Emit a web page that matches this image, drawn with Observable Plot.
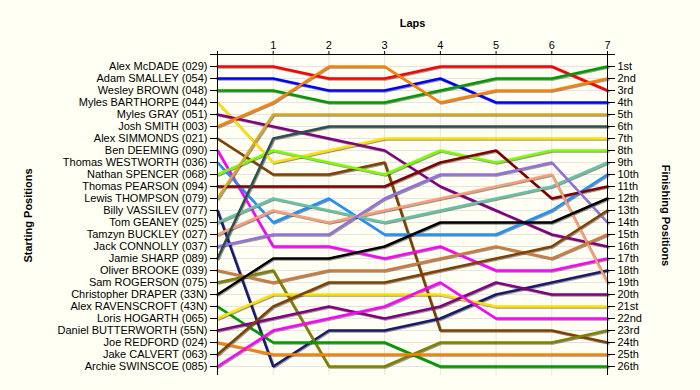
<!DOCTYPE html>
<html><head><meta charset="utf-8">
<script src="https://cdn.jsdelivr.net/npm/d3@7"></script>
<script src="https://cdn.jsdelivr.net/npm/@observablehq/plot@0.6"></script>
<style>html,body{margin:0;padding:0;background:#FFFFF4;}</style>
</head><body><div id="chart"></div>
<script>
const riders = [
  "Alex McDADE (029)", "Adam SMALLEY (054)", "Wesley BROWN (048)", "Myles BARTHORPE (044)",
  "Myles GRAY (051)", "Josh SMITH (003)", "Alex SIMMONDS (021)", "Ben DEEMING (090)",
  "Thomas WESTWORTH (036)", "Nathan SPENCER (068)", "Thomas PEARSON (094)", "Lewis THOMPSON (079)",
  "Billy VASSILEV (077)", "Tom GEANEY (025)", "Tamzyn BUCKLEY (027)", "Jack CONNOLLY (037)",
  "Jamie SHARP (089)", "Oliver BROOKE (039)", "Sam ROGERSON (075)", "Christopher DRAPER (33N)",
  "Alex RAVENSCROFT (43N)", "Loris HOGARTH (065)", "Daniel BUTTERWORTH (55N)", "Joe REDFORD (024)",
  "Jake CALVERT (063)", "Archie SWINSCOE (085)"
];
const riderColors = [
  "#FF0000", "#0000FF", "#009A00", "#FFE000", "#800080", "#FF8000", "#804000", "#FF00FF",
  "#1E90FF", "#7CFC00", "#800000", "#DAA520", "#191970", "#66C2A5", "#FA9E7A", "#9370DB",
  "#2F4F4F", "#CD7A3C", "#808000", "#000000", "#009A00", "#FFE000", "#800080", "#FF8000",
  "#804000", "#FF00FF"
];
const laps = [0, 1, 2, 3, 4, 5, 6, 7];
// position of each rider at laps 0..7 (lap 0 = starting position)
const lapPositions = [
  [1, 1, 2, 2, 1, 1, 1, 3],
  [2, 2, 3, 3, 2, 4, 4, 4],
  [3, 3, 4, 4, 3, 2, 2, 1],
  [4, 9, 8, 7, 7, 7, 7, 7],
  [5, 6, 7, 8, 11, 13, 15, 16],
  [6, 4, 1, 1, 4, 3, 3, 2],
  [7, 10, 10, 9, 23, 23, 23, 24],
  [8, 16, 16, 17, 16, 18, 18, 17],
  [9, 14, 12, 15, 15, 15, 13, 10],
  [10, 8, 9, 10, 8, 9, 8, 8],
  [11, 11, 11, 11, 9, 8, 12, 11],
  [12, 5, 5, 5, 5, 5, 5, 5],
  [13, 26, 23, 23, 22, 20, 19, 18],
  [14, 12, 13, 14, 13, 12, 11, 9],
  [15, 13, 14, 13, 12, 11, 10, 19],
  [16, 15, 15, 12, 10, 10, 9, 14],
  [17, 7, 6, 6, 6, 6, 6, 6],
  [18, 19, 18, 18, 17, 16, 17, 15],
  [19, 18, 26, 26, 24, 24, 24, 23],
  [20, 17, 17, 16, 14, 14, 14, 12],
  [21, 24, 24, 24, 26, 26, 26, 26],
  [22, 20, 20, 20, 20, 21, 21, 21],
  [23, 22, 21, 22, 21, 19, 20, 20],
  [24, 25, 25, 25, 25, 25, 25, 25],
  [25, 21, 19, 19, 18, 17, 16, 13],
  [26, 23, 22, 21, 19, 22, 22, 22]
];
const finishLabels = [
  "1st", "2nd", "3rd", "4th", "5th", "6th", "7th", "8th", "9th", "10th", "11th", "12th", "13th",
  "14th", "15th", "16th", "17th", "18th", "19th", "20th", "21st", "22nd", "23rd", "24th", "25th", "26th"
];
const xTitle = "Laps";
const leftTitle = "Starting Positions";
const rightTitle = "Finishing Positions";

const rows = riders.flatMap((name, i) => laps.map((lap, j) => ({rider: name, lap, pos: lapPositions[i][j]})));
const posTicks = d3.range(0, riders.length + 1);
const gridPositions = d3.range(1, riders.length + 1);
const grid = "#E4E4E4";

const chart = Plot.plot({
  width: 700, height: 390,
  marginLeft: 217, marginRight: 93, marginTop: 54, marginBottom: 24,
  style: {background: "#FFFFF4", fontFamily: "'Liberation Sans', Arial, sans-serif", fontSize: "11px", color: "#000"},
  x: {domain: [0, 7]},
  y: {domain: [0, 26], reverse: true},
  color: {domain: riders, range: riderColors},
  marks: [
    Plot.ruleY(gridPositions, {y: d => d, stroke: grid}),
    Plot.ruleX(laps.slice(1, -1), {x: d => d, y1: 0, y2: 26.75, stroke: grid}),
    Plot.line(rows, {x: "lap", y: "pos", z: "rider", stroke: "#000", strokeOpacity: 0.4, strokeWidth: 2.5, dx: 1, dy: 1, strokeLinejoin: "miter"}),
    Plot.line(rows, {x: "lap", y: "pos", z: "rider", stroke: "rider", strokeWidth: 2.5, strokeLinejoin: "miter"}),
    Plot.ruleX([0, 7], {x: d => d, y1: 0, y2: 26.75, stroke: "#000"}),
    Plot.ruleY([0], {y: d => d, x1: 0, x2: 7, stroke: "#000"}),
    Plot.axisY(posTicks, {anchor: "left", tickSize: 7, tickPadding: 3, tickFormat: d => d === 0 ? "" : riders[d - 1], label: null}),
    Plot.axisY(posTicks, {anchor: "right", tickSize: 7, tickPadding: 3, tickFormat: d => d === 0 ? "" : finishLabels[d - 1], label: null}),
    Plot.axisX(laps, {anchor: "top", tickSize: 4, tickPadding: 2, tickFormat: d => d === 0 ? "" : String(d), label: null}),
    Plot.text([xTitle], {frameAnchor: "top", dy: -35, fontWeight: "bold", fontSize: 11}),
    Plot.text([leftTitle], {frameAnchor: "left", dx: -189.5, dy: 5, rotate: -90, textAnchor: "middle", fontWeight: "bold", fontSize: 11}),
    Plot.text([rightTitle], {frameAnchor: "right", dx: 58, dy: 5, rotate: 90, textAnchor: "middle", fontWeight: "bold", fontSize: 11})
  ]
});
document.getElementById("chart").appendChild(chart);
</script>
</body></html>
